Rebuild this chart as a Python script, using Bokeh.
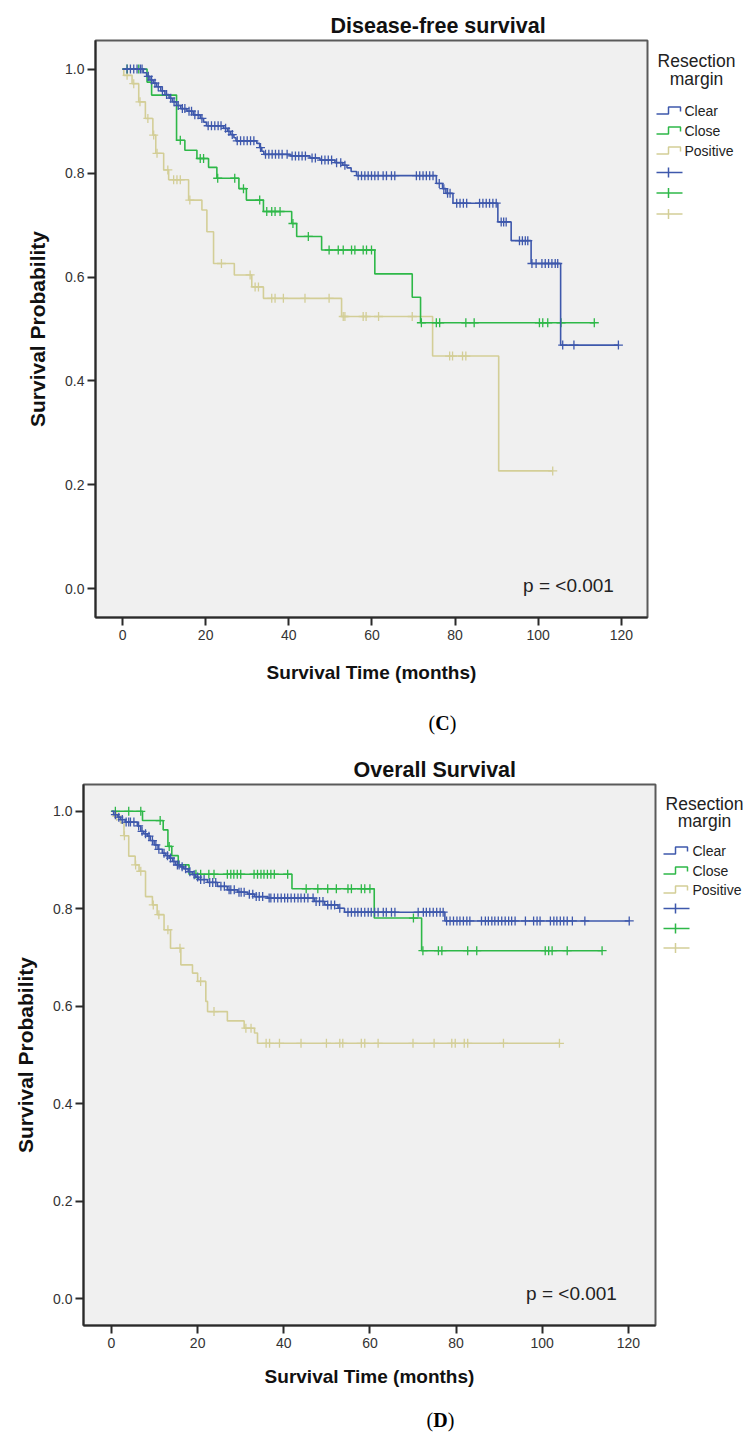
import numpy as np
from bokeh.plotting import figure
from bokeh.layouts import column, row
from bokeh.models import FixedTicker, PrintfTickFormatter, Label, Range1d
from bokeh.core.properties import value
from bokeh.embed import file_html
from bokeh.resources import INLINE

# ---------------- data ----------------
X_TICKS = [0, 20, 40, 60, 80, 100, 120]
Y_TICKS = [0.0, 0.2, 0.4, 0.6, 0.8, 1.0]
GROUPS = ["Clear", "Close", "Positive"]
COLORS = {"Clear": "#3e58ac", "Close": "#2eb848", "Positive": "#d3ce97"}

# Panel C: Disease-free survival
dfs_clear_t = [5.0, 5.8, 6.6, 7.4, 8.2, 9.2, 10.2, 11.2, 12.0, 13.0, 14.0, 15.5, 17.0, 18.7, 19.5, 20.2,
               24.3, 25.3, 26.0, 26.8, 27.3, 32.3, 33.0, 33.5, 34.0, 40.3, 45.1, 47.5, 51.1, 53.0, 54.0,
               55.0, 56.3, 75.5, 77.0, 77.8, 79.5, 90.3, 93.5, 98.3, 105.4]
dfs_clear_s = [0.993, 0.986, 0.979, 0.973, 0.966, 0.958, 0.951, 0.944, 0.937, 0.930, 0.924, 0.919, 0.912,
               0.905, 0.898, 0.891, 0.886, 0.880, 0.874, 0.868, 0.862, 0.857, 0.849, 0.842, 0.836, 0.833,
               0.829, 0.825, 0.820, 0.815, 0.810, 0.803, 0.795, 0.780, 0.770, 0.761, 0.742, 0.706, 0.670,
               0.626, 0.469]
dfs_clear_end = 119.3
dfs_clear_cens = [1.1, 1.9, 2.7, 3.5, 4.3, 4.7, 6.2, 7.0, 7.8, 8.6, 9.6, 10.6, 11.6, 12.4, 13.4, 14.4, 15.0,
                  16.0, 16.6, 17.4, 18.2, 19.1, 20.6, 21.4, 22.2, 23.0, 23.7, 24.8, 25.6, 26.4, 27.6, 28.4,
                  29.2, 30.0, 30.8, 31.6, 33.2, 34.4, 35.2, 36.0, 36.8, 37.6, 38.4, 39.6, 40.8, 41.6, 42.4,
                  43.2, 44.0, 45.6, 46.4, 47.9, 48.7, 49.5, 50.3, 51.5, 52.5, 53.5, 56.7, 57.5, 58.3, 59.1,
                  59.9, 60.7, 61.5, 62.7, 63.5, 64.7, 65.5, 70.7, 71.5, 72.3, 73.1, 73.9, 74.7, 76.2, 77.3,
                  78.2, 78.8, 80.4, 81.2, 82.0, 82.8, 85.9, 86.7, 87.5, 88.3, 89.1, 89.9, 91.1, 91.7, 92.3,
                  95.5, 96.2, 96.9, 97.5, 98.5, 99.5, 100.9, 101.7, 102.5, 103.3, 104.1, 104.7, 105.9,
                  108.6, 119.3]

dfs_close_t = [5.9, 7.0, 13.0, 15.0, 17.9, 20.7, 22.7, 28.0, 29.8, 33.9, 40.7, 41.9, 47.9, 60.7, 69.7, 71.7]
dfs_close_s = [0.975, 0.950, 0.863, 0.844, 0.828, 0.811, 0.790, 0.770, 0.748, 0.726, 0.703, 0.678, 0.652,
               0.606, 0.561, 0.512]
dfs_close_end = 113.5
dfs_close_cens = [1.1, 3.9, 13.9, 18.7, 19.5, 22.9, 27.0, 29.1, 33.0, 34.7, 35.9, 36.7, 37.9, 41.0, 44.7,
                  49.7, 51.9, 53.1, 55.1, 55.9, 57.9, 58.7, 59.9, 71.9, 75.5, 76.3, 82.6, 84.6, 100.3,
                  101.1, 102.3, 105.5, 113.5]

dfs_pos_t = [0.3, 2.3, 3.9, 5.5, 7.3, 8.0, 9.9, 11.1, 15.9, 19.1, 20.3, 21.9, 26.9, 31.1, 33.9, 52.7,
             74.6, 90.5]
dfs_pos_s = [0.988, 0.972, 0.937, 0.905, 0.873, 0.838, 0.806, 0.787, 0.748, 0.729, 0.687, 0.626, 0.604,
             0.581, 0.559, 0.524, 0.448, 0.227]
dfs_pos_end = 103.5
dfs_pos_cens = [1.1, 2.7, 4.2, 6.1, 7.5, 8.3, 10.9, 12.3, 13.1, 13.9, 16.2, 23.8, 30.7, 31.9, 32.7, 35.9,
                36.7, 38.7, 43.9, 49.7, 53.1, 53.5, 57.9, 58.6, 61.6, 69.7, 78.7, 79.4, 81.8, 82.6, 103.5]

# Panel D: Overall survival
os_clear_t = [0.5, 1.5, 2.1, 3.2, 6.0, 6.8, 7.5, 8.3, 9.0, 9.9, 10.8, 11.8, 12.6, 13.4, 14.2, 14.9, 16.0,
              16.8, 17.8, 18.8, 19.5, 20.2, 22.3, 24.6, 26.9, 29.3, 31.6, 33.2, 36.3, 47.1, 49.5, 52.6,
              54.1, 77.4]
os_clear_s = [0.993, 0.988, 0.983, 0.978, 0.970, 0.959, 0.954, 0.949, 0.940, 0.931, 0.922, 0.914, 0.909,
              0.904, 0.897, 0.890, 0.886, 0.882, 0.876, 0.870, 0.865, 0.860, 0.854, 0.846, 0.839, 0.834,
              0.830, 0.825, 0.822, 0.815, 0.808, 0.801, 0.793, 0.775]
os_clear_end = 120.2
os_clear_cens = [0.9, 1.7, 2.5, 3.4, 4.0, 4.4, 5.2, 6.3, 7.1, 7.9, 8.7, 9.5, 10.3, 11.0, 12.2, 13.0, 13.7,
                 14.5, 15.3, 15.7, 16.4, 17.2, 18.2, 19.2, 20.0, 20.7, 21.5, 22.8, 23.5, 24.2, 25.4, 26.2,
                 27.3, 27.7, 28.5, 29.6, 30.1, 30.8, 32.0, 32.8, 33.6, 34.3, 35.1, 36.6, 37.0, 37.8, 38.6,
                 39.4, 40.2, 40.9, 41.7, 42.5, 43.3, 44.0, 44.8, 45.6, 46.8, 47.5, 48.3, 49.1, 50.2, 51.0,
                 51.8, 53.0, 54.9, 55.7, 56.5, 57.2, 58.0, 58.8, 59.6, 60.3, 61.1, 61.9, 63.1, 63.8, 65.0,
                 65.8, 71.2, 72.4, 73.1, 73.9, 74.7, 75.5, 76.3, 77.0, 77.8, 78.6, 79.4, 80.2, 80.9, 81.7,
                 82.5, 83.2, 85.9, 86.8, 87.5, 88.3, 89.0, 89.8, 90.6, 91.4, 92.2, 92.9, 93.7, 96.1, 98.0,
                 98.8, 99.5, 101.9, 102.7, 103.4, 104.2, 105.0, 105.8, 107.0, 109.9, 120.2]

os_close_t = [7.2, 12.0, 13.1, 14.0, 15.5, 18.0, 41.9, 61.0, 72.0]
os_close_s = [0.981, 0.962, 0.928, 0.909, 0.890, 0.871, 0.841, 0.781, 0.714]
os_close_end = 113.9
os_close_cens = [0.9, 4.0, 6.8, 11.3, 13.4, 19.6, 20.7, 22.6, 23.8, 26.9, 27.7, 28.4, 29.2, 30.0, 33.1,
                 33.9, 34.7, 35.4, 36.2, 37.0, 37.8, 40.9, 45.2, 47.9, 50.2, 52.2, 54.9, 55.7, 58.0, 58.8,
                 60.0, 70.1, 72.3, 75.9, 76.7, 82.7, 84.8, 100.7, 101.5, 102.3, 105.8, 113.9]

os_pos_t = [0.5, 2.1, 2.9, 4.0, 5.5, 6.4, 7.9, 9.5, 10.6, 12.2, 13.7, 16.1, 18.8, 20.0, 21.9, 22.3, 26.9,
            30.8, 33.2, 33.9]
os_pos_s = [0.990, 0.976, 0.950, 0.908, 0.890, 0.877, 0.825, 0.808, 0.788, 0.757, 0.719, 0.685, 0.668,
            0.651, 0.610, 0.589, 0.570, 0.555, 0.545, 0.524]
os_pos_end = 104.0
os_pos_cens = [1.2, 3.0, 5.6, 6.8, 9.7, 11.0, 13.1, 15.9, 20.7, 23.8, 31.2, 32.4, 35.9, 36.7, 39.0, 44.0,
               49.9, 53.0, 53.7, 58.0, 58.8, 61.9, 70.0, 74.9, 79.0, 79.8, 81.9, 82.7, 91.0, 104.0]

# ---------------- helpers ----------------
XR = (-6.5, 126.3)
YR = (-0.055, 1.055)
PAGE_W = 746
SANS = "Liberation Sans"
SERIF = "Liberation Serif"


def km_step(times, surv, end):
    xs = [0.0] + list(times) + [end]
    ys = [1.0] + list(surv) + [surv[-1]]
    return xs, ys


def surv_at(times, surv, cens):
    t = np.asarray(times)
    s = np.asarray(surv)
    idx = np.searchsorted(t, np.asarray(cens), side="right") - 1
    return np.where(idx < 0, 1.0, s[np.clip(idx, 0, None)])


def blank_fig(w, h, xr, yr):
    f = figure(width=w, height=h, output_backend="svg", toolbar_location=None, title=None,
               x_range=Range1d(*xr), y_range=Range1d(*yr), x_axis_type=None, y_axis_type=None,
               min_border=0, frame_align=False)
    f.outline_line_color = None
    f.background_fill_color = "white"
    f.border_fill_color = "white"
    return f


def main_fig(title, title_left, curves, page_top, fig_h, frame, pval_c, xlab_standoff):
    fl, ft, fr, fb = frame
    fig_w = fr + 2

    def dx(px):
        return XR[0] + (px - fl) * (XR[1] - XR[0]) / (fr - fl)

    def dy(py):
        return YR[1] - (py - ft) * (YR[1] - YR[0]) / (fb - ft)

    p = figure(width=fig_w, height=fig_h, output_backend="svg", toolbar_location=None,
               x_range=Range1d(*XR), y_range=Range1d(*YR), frame_align=False,
               min_border_left=fl, min_border_right=fig_w - fr,
               min_border_top=ft - page_top, min_border_bottom=page_top + fig_h - fb)
    p.title.text = title
    p.title.align = "left"
    p.title.offset = title_left - fl
    p.title.text_font = SANS
    p.title.text_font_size = "21.5px"
    p.title.text_font_style = "bold"
    p.title.text_color = "#111111"
    p.title.standoff = 6
    p.background_fill_color = "#f0f0f0"
    p.border_fill_color = "white"
    p.outline_line_color = "#5a5a5a"
    p.outline_line_width = 2
    p.grid.visible = False

    for ax in (p.xaxis, p.yaxis):
        ax.major_tick_out = 8
        ax.major_tick_in = 0
        ax.minor_tick_line_color = None
        ax.axis_line_color = "#2a2a2a"
        ax.axis_line_width = 2
        ax.major_tick_line_color = "#2a2a2a"
        ax.major_tick_line_width = 2
        ax.major_label_text_font = SANS
        ax.major_label_text_font_size = "14px"
        ax.major_label_text_color = "#333333"
        ax.axis_label_text_font = SANS
        ax.axis_label_text_font_style = "bold"
        ax.axis_label_text_color = "#111111"
    p.xaxis.ticker = FixedTicker(ticks=X_TICKS)
    p.yaxis.ticker = FixedTicker(ticks=Y_TICKS)
    p.yaxis.formatter = PrintfTickFormatter(format="%.1f")
    p.xaxis.axis_label = "Survival Time (months)"
    p.yaxis.axis_label = "Survival Probability"
    p.xaxis.axis_label_text_font_size = "19px"
    p.yaxis.axis_label_text_font_size = "21px"
    p.xaxis.major_label_standoff = 4
    p.yaxis.major_label_standoff = 3
    p.xaxis.axis_label_standoff = xlab_standoff
    p.yaxis.axis_label_standoff = 13

    for g in ["Positive", "Close", "Clear"]:
        times, surv, end, cens = curves[g]
        xs, ys = km_step(times, surv, end)
        p.step(xs, ys, mode="after", line_color=COLORS[g], line_width=1.6)
        p.scatter(cens, surv_at(times, surv, cens), marker="cross", size=9,
                  line_color=COLORS[g], line_width=1.3)

    p.add_layout(Label(x=dx(pval_c[0]), y=dy(pval_c[1]), text="p = <0.001", text_align="center",
                       text_baseline="middle", text_font=SANS, text_font_size="19px",
                       text_color="#222222"))
    return p


def legend_fig(x_left, page_top, h, sx, tx, cx, y_res, y_mar, rows):
    # coordinates of this helper figure are page pixels
    f = blank_fig(PAGE_W - x_left, h, (x_left, PAGE_W), (page_top + h, page_top))
    f.text(x=[cx, cx], y=[y_res, y_mar], text=["Resection", "margin"], text_align="center",
           text_baseline="middle", text_font=value(SANS), text_font_size=value("17.5px"),
           text_color="#222222")
    for i, g in enumerate(GROUPS):
        y = rows[i]
        f.line(x=[sx, sx + 12, sx + 12, sx + 24, sx + 24],
               y=[y + 3.5, y + 3.5, y - 3.5, y - 3.5, y + 1], line_color=COLORS[g], line_width=1.5)
        f.text(x=[tx], y=[y], text=[g], text_align="left", text_baseline="middle",
               text_font=value(SANS), text_font_size=value("14px"), text_color="#222222")
    for i, g in enumerate(GROUPS):
        y = rows[3 + i]
        f.line(x=[sx, sx + 26], y=[y, y], line_color=COLORS[g], line_width=1.5)
        f.line(x=[sx + 12, sx + 12], y=[y - 5, y + 5], line_color=COLORS[g], line_width=1.5)
    return f


def letter_fig(page_top, h, letter, cx, cy):
    f = blank_fig(PAGE_W, h, (0, PAGE_W), (page_top + h, page_top))
    w_par, w_let = 6.7, 14.4
    x0 = cx - (2 * w_par + w_let) / 2
    for txt, xp, st in [("(", x0, "normal"), (letter, x0 + w_par, "bold"),
                        (")", x0 + w_par + w_let, "normal")]:
        f.text(x=[xp], y=[cy], text=[txt], text_align="left", text_baseline="middle",
               text_font=value(SERIF), text_font_size=value("20px"), text_font_style=value(st),
               text_color="#000000")
    return f


curves_c = {
    "Clear": (dfs_clear_t, dfs_clear_s, dfs_clear_end, dfs_clear_cens),
    "Close": (dfs_close_t, dfs_close_s, dfs_close_end, dfs_close_cens),
    "Positive": (dfs_pos_t, dfs_pos_s, dfs_pos_end, dfs_pos_cens),
}
curves_d = {
    "Clear": (os_clear_t, os_clear_s, os_clear_end, os_clear_cens),
    "Close": (os_close_t, os_close_s, os_close_end, os_close_cens),
    "Positive": (os_pos_t, os_pos_s, os_pos_end, os_pos_cens),
}

# vertical bands (page pixels)
C_TOP, C_H = 0, 700
CL_TOP, CL_H = 700, 45
D_TOP, D_H = 745, 650
DL_TOP, DL_H = 1395, 41

pC = main_fig("Disease-free survival", 330, curves_c, C_TOP, C_H, (95, 40, 647, 617), (568, 585), 19)
legC = legend_fig(pC.width, C_TOP, C_H, 656, 684, 696, 60, 78, [110, 130, 150, 172, 192.5, 213.5])
letC = letter_fig(CL_TOP, CL_H, "C", 442, 722)

pD = main_fig("Overall Survival", 353, curves_d, D_TOP, D_H, (83, 784, 655, 1325), (571, 1293), 15)
legD = legend_fig(pD.width, D_TOP, D_H, 663, 692, 704, 803, 820, [850, 870, 889, 908, 928, 947.5])
letD = letter_fig(DL_TOP, DL_H, "D", 440, 1419)

layout = column(row(pC, legC, spacing=0), letC, row(pD, legD, spacing=0), letD, spacing=0)
open("out.html", "w").write(file_html(layout, INLINE))
